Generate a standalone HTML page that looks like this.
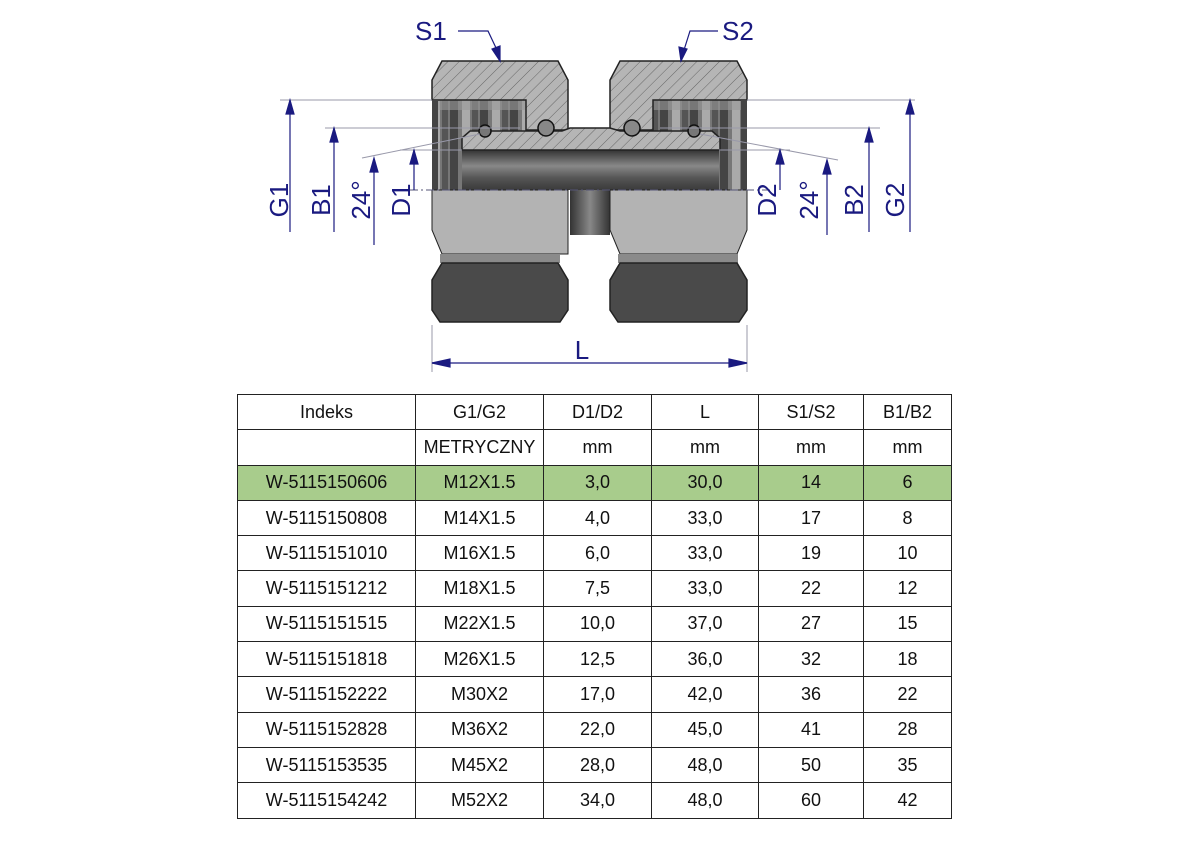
<!DOCTYPE html>
<html><head><meta charset="utf-8"><style>
body{margin:0;background:#fff;width:1191px;height:842px;position:relative;overflow:hidden;font-family:"Liberation Sans",sans-serif}
table{position:absolute;left:237px;top:394px;border-collapse:collapse;font-size:18px;color:#111}
td{border:1.5px solid #222;text-align:center;height:34.3px;padding:0}
tr.g td{background:#a8cc8c}
</style></head><body>
<svg width="1191" height="390" style="position:absolute;left:0;top:0" font-family="Liberation Sans, sans-serif">
<defs>
<pattern id="h" width="8" height="8" patternUnits="userSpaceOnUse" patternTransform="rotate(45)"><rect width="8" height="8" fill="#b5b5b5"/><line x1="0" y1="0" x2="0" y2="8" stroke="#666" stroke-width="1"/></pattern>
<linearGradient id="bore" x1="0" y1="0" x2="0" y2="1"><stop offset="0" stop-color="#333"/><stop offset="0.4" stop-color="#888"/><stop offset="0.7" stop-color="#555"/><stop offset="1" stop-color="#3a3a3a"/></linearGradient>
<pattern id="thr" width="30" height="90" patternUnits="userSpaceOnUse"><rect width="30" height="90" fill="#777"/><rect x="0" width="8" height="90" fill="#444"/><rect x="12" width="8" height="90" fill="#aaa"/><rect x="22" width="6" height="90" fill="#555"/></pattern>
<linearGradient id="tube" x1="0" y1="0" x2="1" y2="0"><stop offset="0" stop-color="#333"/><stop offset="0.5" stop-color="#888"/><stop offset="1" stop-color="#333"/></linearGradient>
</defs>
<rect x="437" y="100" width="90" height="90" fill="url(#thr)"/>
<rect x="652" y="100" width="90" height="90" fill="url(#thr)"/>
<rect x="437" y="100" width="90" height="10" fill="#999" opacity="0.6"/>
<rect x="652" y="100" width="90" height="10" fill="#999" opacity="0.6"/>
<rect x="462" y="150" width="257" height="40" fill="url(#bore)"/>
<path d="M442,61 L558,61 L568,80 L568,130 L526,130 L526,100 L432,100 L432,80 Z" fill="url(#h)" stroke="#222" stroke-width="1.5"/>
<path d="M620,61 L737,61 L747,80 L747,100 L653,100 L653,130 L610,130 L610,80 Z" fill="url(#h)" stroke="#222" stroke-width="1.5"/>
<rect x="432" y="100" width="6" height="90" fill="#444"/>
<rect x="741" y="100" width="6" height="90" fill="#444"/>
<path d="M470,131 L562,131 L570,128 L610,128 L620,131 L712,131 L720,138 L720,150 L462,150 L462,138 Z" fill="url(#h)" stroke="#222" stroke-width="1.5"/>
<circle cx="485" cy="131" r="6" fill="#777" stroke="#111" stroke-width="1.5"/>
<circle cx="546" cy="128" r="8" fill="#888" stroke="#111" stroke-width="1.5"/>
<circle cx="632" cy="128" r="8" fill="#888" stroke="#111" stroke-width="1.5"/>
<circle cx="694" cy="131" r="6" fill="#777" stroke="#111" stroke-width="1.5"/>
<rect x="570" y="190" width="40" height="45" fill="url(#tube)"/>
<path d="M432,190 L568,190 L568,254 L442,254 L432,230 Z" fill="#b3b3b3" stroke="#222" stroke-width="1"/>
<path d="M610,190 L747,190 L747,230 L737,254 L620,254 L610,230 Z" fill="#b3b3b3" stroke="#222" stroke-width="1"/>
<rect x="440" y="254" width="120" height="9" fill="#8a8a8a"/>
<rect x="618" y="254" width="120" height="9" fill="#8a8a8a"/>
<path d="M442,263 L558,263 L568,280 L568,310 L560,322 L440,322 L432,310 L432,280 Z" fill="#4a4a4a" stroke="#222" stroke-width="1.5"/>
<path d="M620,263 L737,263 L747,280 L747,310 L739,322 L618,322 L610,310 L610,280 Z" fill="#4a4a4a" stroke="#222" stroke-width="1.5"/>
<line x1="410" y1="190" x2="770" y2="190" stroke="#557" stroke-dasharray="8,3,2,3" stroke-width="1"/>
<g stroke="#99a" stroke-width="1" fill="none">
<line x1="280" y1="100" x2="432" y2="100"/><line x1="747" y1="100" x2="915" y2="100"/>
<line x1="325" y1="128" x2="520" y2="128"/><line x1="660" y1="128" x2="880" y2="128"/>
<line x1="400" y1="150" x2="462" y2="150"/><line x1="719" y1="150" x2="790" y2="150"/>
<line x1="362" y1="158" x2="480" y2="134"/><line x1="700" y1="134" x2="838" y2="160"/>
<line x1="432" y1="325" x2="432" y2="372"/><line x1="747" y1="325" x2="747" y2="372"/>
</g>
<g stroke="#1a1a80" stroke-width="1.2" fill="#1a1a80">
<line x1="290" y1="100" x2="290" y2="232"/><path d="M290,100 l-4,14 h8 z"/>
<line x1="334" y1="128" x2="334" y2="232"/><path d="M334,128 l-4,14 h8 z"/>
<line x1="374" y1="160" x2="374" y2="245" fill="none"/><path d="M374,158 l-4,14 h8 z"/>
<line x1="414" y1="150" x2="414" y2="190"/><path d="M414,150 l-4,14 h8 z"/>
<line x1="780" y1="150" x2="780" y2="190"/><path d="M780,150 l-4,14 h8 z"/>
<line x1="827" y1="160" x2="827" y2="235"/><path d="M827,160 l-4,14 h8 z"/>
<line x1="869" y1="128" x2="869" y2="232"/><path d="M869,128 l-4,14 h8 z"/>
<line x1="910" y1="100" x2="910" y2="232"/><path d="M910,100 l-4,14 h8 z"/>
<line x1="432" y1="363" x2="747" y2="363"/><path d="M432,363 l18,-4 v8 z"/><path d="M747,363 l-18,-4 v8 z"/>
<polyline points="458,31 488,31 497,50" fill="none"/><path d="M500,61 l-8,-12 l8,-3 z"/>
<polyline points="718,31 690,31 684,50" fill="none"/><path d="M681,61 l-2,-14 l8,2 z"/>
</g>
<g fill="#1a1a80" font-size="26">
<text x="415" y="40">S1</text><text x="722" y="40">S2</text>
<text x="582" y="359" text-anchor="middle">L</text>
<g text-anchor="middle">
<text transform="translate(288,200) rotate(-90)">G1</text>
<text transform="translate(330,200) rotate(-90)">B1</text>
<text transform="translate(370,200) rotate(-90)">24°</text>
<text transform="translate(410,200) rotate(-90)">D1</text>
<text transform="translate(776,200) rotate(-90)">D2</text>
<text transform="translate(818,200) rotate(-90)">24°</text>
<text transform="translate(863,200) rotate(-90)">B2</text>
<text transform="translate(904,200) rotate(-90)">G2</text>
</g></g>
</svg>
<table>
<colgroup><col style="width:178px"><col style="width:128px"><col style="width:108px"><col style="width:107px"><col style="width:105px"><col style="width:88px"></colgroup>
<tr><td>Indeks</td><td>G1/G2</td><td>D1/D2</td><td>L</td><td>S1/S2</td><td>B1/B2</td></tr>
<tr><td></td><td>METRYCZNY</td><td>mm</td><td>mm</td><td>mm</td><td>mm</td></tr>
<tr class="g"><td>W-5115150606</td><td>M12X1.5</td><td>3,0</td><td>30,0</td><td>14</td><td>6</td></tr>
<tr><td>W-5115150808</td><td>M14X1.5</td><td>4,0</td><td>33,0</td><td>17</td><td>8</td></tr>
<tr><td>W-5115151010</td><td>M16X1.5</td><td>6,0</td><td>33,0</td><td>19</td><td>10</td></tr>
<tr><td>W-5115151212</td><td>M18X1.5</td><td>7,5</td><td>33,0</td><td>22</td><td>12</td></tr>
<tr><td>W-5115151515</td><td>M22X1.5</td><td>10,0</td><td>37,0</td><td>27</td><td>15</td></tr>
<tr><td>W-5115151818</td><td>M26X1.5</td><td>12,5</td><td>36,0</td><td>32</td><td>18</td></tr>
<tr><td>W-5115152222</td><td>M30X2</td><td>17,0</td><td>42,0</td><td>36</td><td>22</td></tr>
<tr><td>W-5115152828</td><td>M36X2</td><td>22,0</td><td>45,0</td><td>41</td><td>28</td></tr>
<tr><td>W-5115153535</td><td>M45X2</td><td>28,0</td><td>48,0</td><td>50</td><td>35</td></tr>
<tr><td>W-5115154242</td><td>M52X2</td><td>34,0</td><td>48,0</td><td>60</td><td>42</td></tr>
</table>
</body></html>
